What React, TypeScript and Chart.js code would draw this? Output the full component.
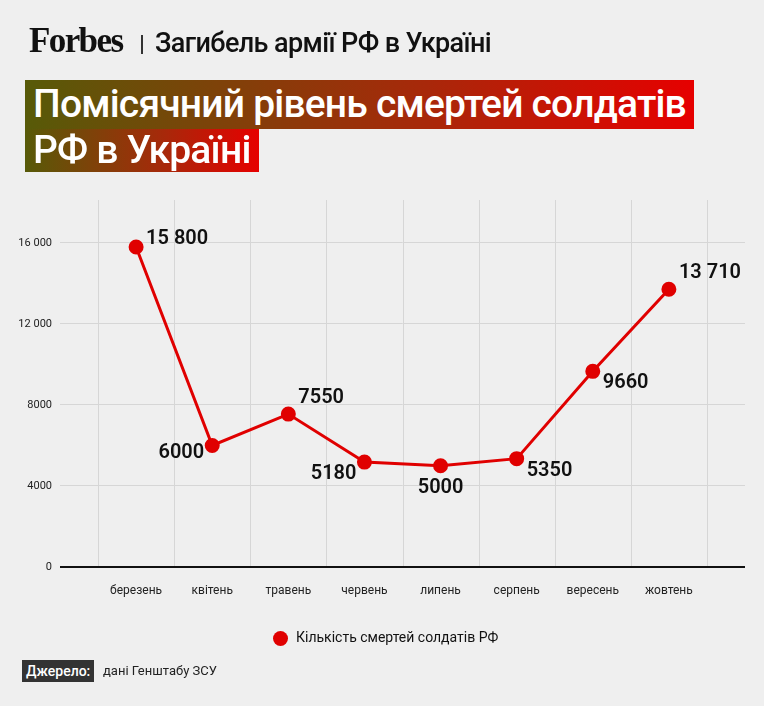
import React, { useEffect, useRef } from "react";
import { Chart, registerables } from "chart.js";
Chart.register(...registerables);

const months = ["березень", "квітень", "травень", "червень", "липень", "серпень", "вересень", "жовтень"];
const deaths = [15800, 6000, 7550, 5180, 5000, 5350, 9660, 13710];
const pointLabels = ["15 800", "6000", "7550", "5180", "5000", "5350", "9660", "13 710"];
const yTicks = [0, 4000, 8000, 12000, 16000];
const yTickLabels = ["0", "4000", "8000", "12 000", "16 000"];
// label placement: [dx, dy, align]
const labelPos: [number, number, CanvasTextAlign][] = [
  [10, -8, "left"], [-8, 8, "right"], [10, -16, "left"], [-8, 12, "right"],
  [0, 22, "center"], [10, 12, "left"], [10, 12, "left"], [10, -16, "left"],
];

const RED = "#e00000";

const extras = {
  id: "extras",
  beforeDatasetsDraw(chart: any) {
    const { ctx, chartArea, scales } = chart;
    ctx.save();
    ctx.strokeStyle = "#d6d6d6";
    ctx.lineWidth = 1;
    for (let i = 0; i <= months.length; i++) {
      const x = Math.round(scales.x.getPixelForValue(i - 0.5)) + 0.5;
      ctx.beginPath();
      ctx.moveTo(x, chartArea.top);
      ctx.lineTo(x, chartArea.bottom);
      ctx.stroke();
    }
    ctx.strokeStyle = "#111";
    ctx.lineWidth = 2;
    ctx.beginPath();
    ctx.moveTo(chartArea.left, chartArea.bottom);
    ctx.lineTo(chartArea.right, chartArea.bottom);
    ctx.stroke();
    ctx.restore();
  },
  afterDatasetsDraw(chart: any) {
    const { ctx } = chart;
    const meta = chart.getDatasetMeta(0);
    ctx.save();
    ctx.font = "600 20px Roboto";
    ctx.fillStyle = "#111";
    ctx.textBaseline = "middle";
    meta.data.forEach((p: any, i: number) => {
      const [dx, dy, al] = labelPos[i];
      ctx.textAlign = al;
      ctx.fillText(pointLabels[i], p.x + dx, p.y + dy);
    });
    ctx.restore();
  },
};

export default function App() {
  const ref = useRef<HTMLCanvasElement>(null);
  useEffect(() => {
    document.body.style.margin = "0";
    const chart = new Chart(ref.current!, {
      type: "line",
      data: {
        datasets: [{
          data: deaths.map((v, i) => ({ x: i, y: v })),
          borderColor: RED,
          backgroundColor: RED,
          borderWidth: 3,
          pointRadius: 6,
          pointHoverRadius: 6,
          tension: 0,
        }],
      },
      options: {
        animation: false,
        responsive: false,
        layout: { padding: { top: 200, right: 19, left: 0, bottom: 0 } },
        plugins: { legend: { display: false }, tooltip: { enabled: false } },
        scales: {
          x: {
            type: "linear",
            min: -1,
            max: 8,
            afterBuildTicks: (s: any) => { s.ticks = months.map((_, i) => ({ value: i })); },
            afterFit: (s: any) => { s.height = 139; },
            grid: { display: false },
            border: { display: false },
            ticks: {
              autoSkip: false,
              maxRotation: 0,
              padding: 9,
              color: "#222",
              font: { family: "Roboto", size: 12 },
              callback: (v: any) => months[v] ?? "",
            },
          },
          y: {
            min: 0,
            max: 18120,
            afterBuildTicks: (s: any) => { s.ticks = yTicks.map((v) => ({ value: v })); },
            afterFit: (s: any) => { s.width = 60; },
            grid: { color: "#d6d6d6", drawTicks: false },
            border: { display: false },
            ticks: {
              padding: 8,
              color: "#222",
              font: { family: "Roboto", size: 11 },
              callback: (v: any) => yTickLabels[yTicks.indexOf(v)] ?? "",
            },
          },
        },
      },
      plugins: [extras],
    });
    return () => chart.destroy();
  }, []);

  const grad = "linear-gradient(90deg, #575a08 0%, #a8280a 60%, #e60000 100%)";
  const titleLine: React.CSSProperties = {
    position: "absolute", left: 25, color: "#fff", fontFamily: "Roboto", fontWeight: 500,
    fontSize: 39, lineHeight: "46px", padding: "0 8px", whiteSpace: "nowrap", background: grad,
    letterSpacing: -0.8,
  };
  return (
    <div style={{ position: "relative", width: 764, height: 706, background: "#efefef", overflow: "hidden", fontFamily: "Roboto" }}>
      <canvas ref={ref} width={764} height={706} style={{ position: "absolute", left: 0, top: 0 }} />
      <div style={{ position: "absolute", left: 29, top: 21, fontFamily: "Liberation Serif", fontWeight: 700, fontSize: 35, letterSpacing: -1.6, color: "#111" }}>Forbes</div>
      <div style={{ position: "absolute", left: 141, top: 35, width: 1.5, height: 19, background: "#333" }} />
      <div style={{ position: "absolute", left: 155, top: 27, fontWeight: 500, fontSize: 27, color: "#111", letterSpacing: -0.6 }}>Загибель армії РФ в Україні</div>
      <div style={{ ...titleLine, top: 80, height: 49, lineHeight: "49px" }}>Помісячний рівень смертей солдатів</div>
      <div style={{ ...titleLine, top: 129, height: 43, lineHeight: "43px" }}>РФ в Україні</div>
      <div style={{ position: "absolute", left: 273, top: 631, width: 15, height: 15, borderRadius: "50%", background: RED }} />
      <div style={{ position: "absolute", left: 296, top: 629, fontSize: 14, color: "#111" }}>Кількість смертей солдатів РФ</div>
      <div style={{ position: "absolute", left: 22, top: 660, height: 22, lineHeight: "22px", padding: "0 4px", background: "#333", color: "#fff", fontWeight: 500, fontSize: 14 }}>Джерело:</div>
      <div style={{ position: "absolute", left: 103, top: 660, lineHeight: "22px", fontSize: 13, color: "#222" }}>дані Генштабу ЗСУ</div>
    </div>
  );
}
